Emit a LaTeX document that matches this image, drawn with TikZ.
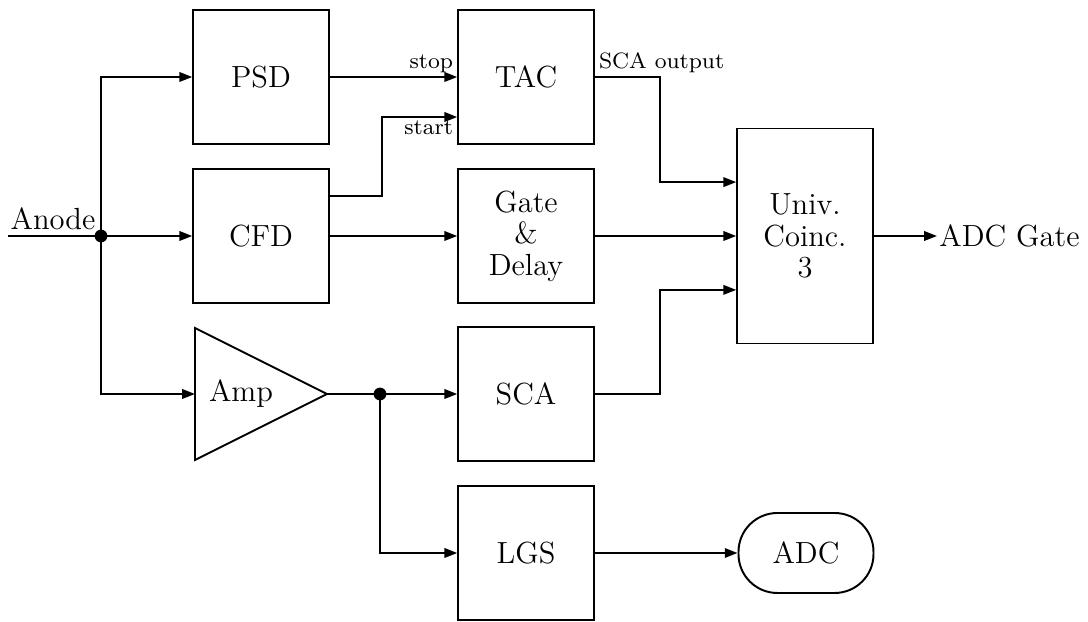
\documentclass[tikz,border=0pt]{standalone}
\usepackage{tikz}
\usetikzlibrary{arrows.meta,positioning,calc}

\begin{document}
\begin{tikzpicture}[x=0.36pt,y=-0.36pt,line width=0.7pt,
  font=\fontsize{11}{11.3}\selectfont,
  blk/.style={draw,minimum width=48.8pt,minimum height=48.4pt,inner sep=0pt,align=center},
  sig/.style={-{Triangle[length=4.6pt,width=3.4pt]}},
  tag/.style={font=\fontsize{8}{9}\selectfont,inner sep=1.2pt}]
  \useasboundingbox (0,0) rectangle (1088,622);
  % first column
  \node[blk] (psd) at (261,77) {PSD};
  \node[blk] (cfd) at (261,236) {CFD};
  \draw (195,328) -- (327,394) -- (195,460) -- cycle;
  \coordinate (ampin) at (195,394);
  \coordinate (ampout) at (327,394);
  \node (amp) at (241,394) {Amp};
  % second column
  \node[blk] (tac) at (526,77) {TAC};
  \node[blk] (gate) at (526,236) {Gate\\\&\\Delay};
  \node[blk] (sca) at (526,394) {SCA};
  \node[blk] (lgs) at (526,553) {LGS};
  % third column
  \node[blk,minimum height=77.4pt] (univ) at (805,236) {Univ.\\Coinc.\\3};
  \node[draw,rounded corners=14pt,minimum width=48.6pt,minimum height=28.8pt] (adc) at (806,553) {ADC};
  \node[anchor=west,inner sep=0.5pt] (adcgate) at (937,236) {ADC Gate};
  % input
  \coordinate (anodein) at (8,236);
  \coordinate (j1) at (101,236);
  \coordinate (j2) at (380,394);
  \node[anchor=south,inner sep=2pt] (anode) at (53,236) {Anode};
  \draw (anodein) -- (j1);
  \draw[sig] (j1) |- (psd);
  \draw[sig] (j1) -- (cfd);
  \draw[sig] (j1) |- (ampin);
  \fill (j1) circle (2.3pt);
  % TAC inputs
  \draw[sig] (psd) -- (tac);
  \node[tag,anchor=south east] (stop) at (tac.west) {stop};
  \draw[sig] ([yshift=14.4pt]cfd.east) -- ++(52,0) |- ([yshift=-14.4pt]tac.west);
  \node[tag,anchor=north east] (start) at ([yshift=-14.4pt]tac.west) {start};
  % coincidence inputs
  \draw[sig] (tac.east) -- ++(65,0) |- ([yshift=19.4pt]univ.west);
  \node[tag,anchor=south west] (scaout) at (tac.east) {SCA output};
  \draw[sig] (cfd) -- (gate);
  \draw[sig] (gate) -- (univ);
  \draw[sig] (sca.east) -- ++(65,0) |- ([yshift=-19.4pt]univ.west);
  % amp branch
  \draw (ampout) -- (j2);
  \fill (j2) circle (2.3pt);
  \draw[sig] (j2) -- (sca);
  \draw[sig] (j2) |- (lgs);
  \draw[sig] (lgs) -- (adc);
  \draw[sig] (univ) -- (adcgate);
\end{tikzpicture}
\end{document}
